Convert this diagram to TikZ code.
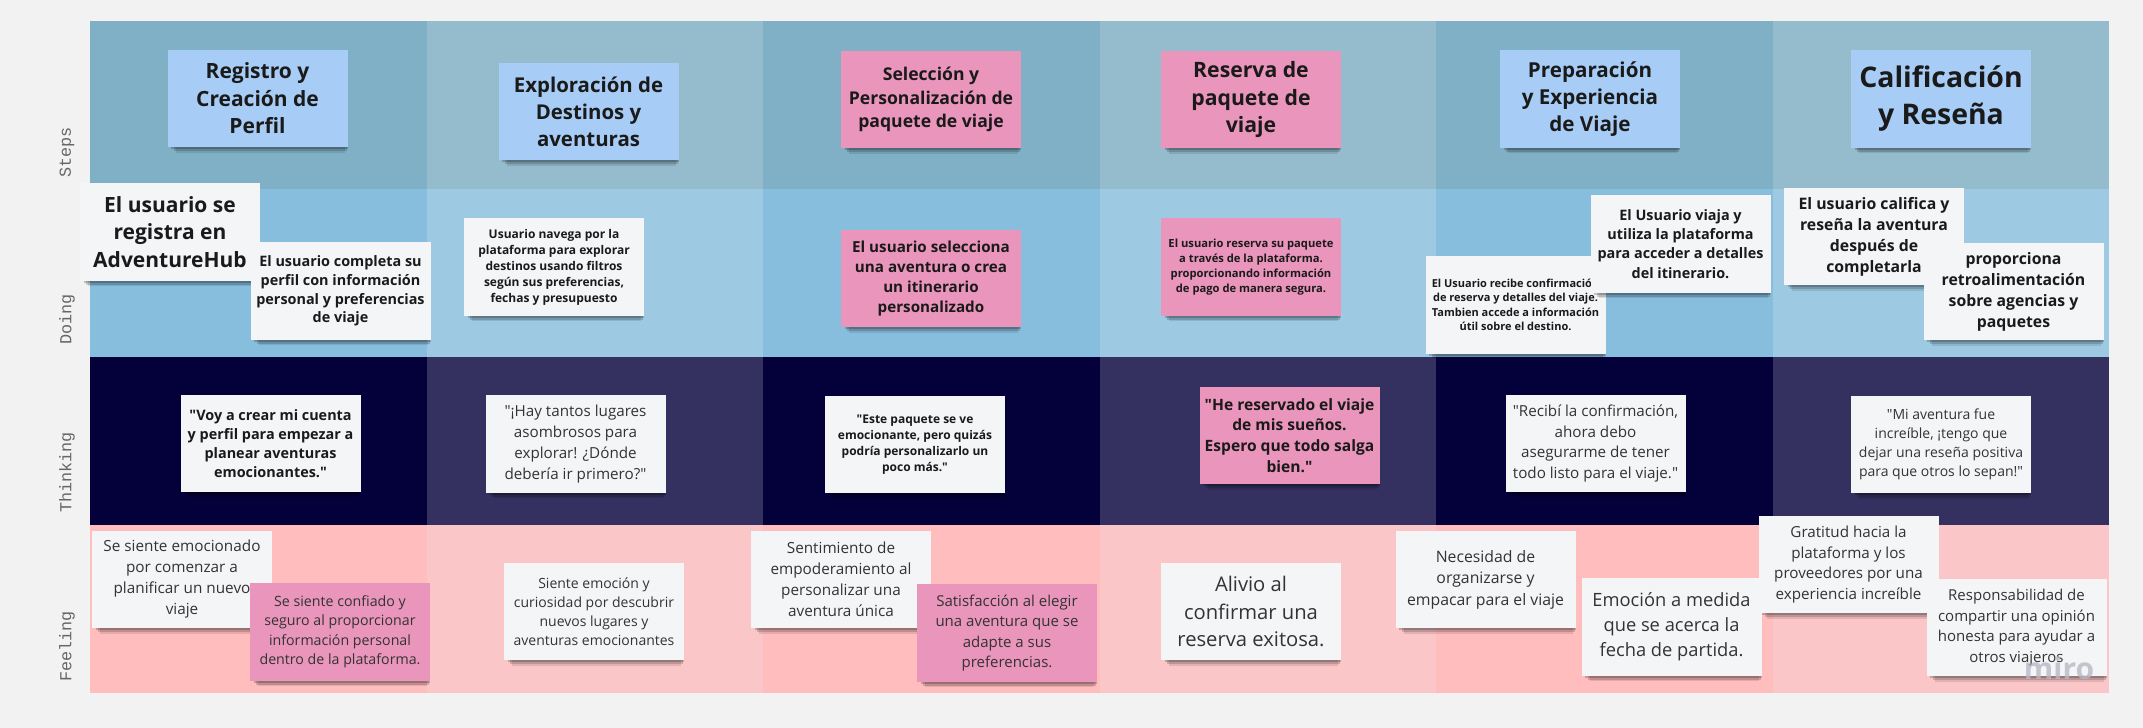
\documentclass[tikz,border=0pt]{standalone}
\usepackage{fontspec}
\setmainfont{Open Sans}[Ligatures=TeXOff]
\newfontfamily\lanefont{Liberation Mono}
\usepackage{xcolor}
\usetikzlibrary{shadows}

\definecolor{pagebg}{HTML}{F2F2F2}
\definecolor{stepA}{HTML}{7FB0C6}
\definecolor{stepB}{HTML}{95BCCD}
\definecolor{doA}{HTML}{88BEDD}
\definecolor{doB}{HTML}{9DC9E2}
\definecolor{thA}{HTML}{04003A}
\definecolor{thB}{HTML}{34305F}
\definecolor{feA}{HTML}{FFBDBE}
\definecolor{feB}{HTML}{FBC6C7}
\definecolor{noteblue}{HTML}{A7CCF5}
\definecolor{notepink}{HTML}{EA95BC}
\definecolor{notewhite}{HTML}{F4F5F7}
\definecolor{notetext}{HTML}{1A1A1A}
\definecolor{lighttext}{HTML}{333333}
\definecolor{lanegray}{HTML}{666666}
\definecolor{wmgray}{HTML}{B9B8C6}

\newcommand{\notesize}[2]{\fontsize{#1}{#2}\selectfont}

\tikzset{
  lane/.style={rotate=90, anchor=west, inner sep=0pt, text=lanegray,
    font=\lanefont\notesize{8.4}{10}},
  note/.style={minimum width=90pt, minimum height=48.75pt, inner sep=1pt,
    align=center, text=notetext,
    general shadow={fill=black, opacity=.10, shadow xshift=1.5pt,
      shadow yshift=-4.5pt, shadow scale=.94},
    general shadow={fill=black, opacity=.16, shadow xshift=1.5pt,
      shadow yshift=-3pt, shadow scale=.96},
    general shadow={fill=black, opacity=.2, shadow xshift=1pt,
      shadow yshift=-1.5pt, shadow scale=.98}},
  bluenote/.style={note, fill=noteblue},
  pinknote/.style={note, fill=notepink},
  whitenote/.style={note, fill=notewhite},
  soft/.style={text=lighttext},
}

\begin{document}
\begin{tikzpicture}[x=0.5pt, y=-0.5pt]
\fill[pagebg] (0,0) rectangle (2143,728);
\useasboundingbox (0,0) rectangle (2143,728);
\foreach \r/\ca/\cb in {0/stepA/stepB, 1/doA/doB, 2/thA/thB, 3/feA/feB}
  \foreach \c in {0,...,5} {
    \ifodd\c \colorlet{lanecol}{\cb}\else \colorlet{lanecol}{\ca}\fi
    \fill[lanecol] ({90+336.5*\c},{21+168*\r}) rectangle ({90+336.5*(\c+1)},{21+168*(\r+1)});
  }

\node[lane] (steps) at (67,178) {Steps};
\node[lane] (doing) at (67,345) {Doing};
\node[lane] (thinking) at (67,513) {Thinking};
\node[lane] (feeling) at (67,682) {Feeling};

\node[bluenote, font=\bfseries\notesize{10.5}{13.7}] (registro) at (257.5,98.5) {Registro y\\Creación de\\Perfil};
\node[bluenote, font=\bfseries\notesize{10.2}{13.6}] (exploracion) at (588.5,111.5) {Exploración de\\Destinos y\\aventuras};
\node[pinknote, font=\bfseries\notesize{8.8}{11.7}] (seleccion) at (931,99.5) {Selección y\\Personalización de\\paquete de viaje};
\node[pinknote, font=\bfseries\notesize{10.6}{13.6}] (reserva) at (1251,99.5) {Reserva de\\paquete de\\viaje};
\node[bluenote, font=\bfseries\notesize{10.3}{13.6}] (preparacion) at (1590,99) {Preparación\\y Experiencia\\de Viaje};
\node[bluenote, font=\bfseries\notesize{14.2}{18.5}] (calificacion) at (1941,99) {Calificación\\y Reseña};

\node[whitenote, font=\bfseries\notesize{10.5}{13.75}] (registra) at (170,232) {El usuario se\\registra en\\AdventureHub};
\node[whitenote, font=\bfseries\notesize{7.2}{9.35}] (completa) at (340.5,291) {El usuario completa su\\perfil con información\\personal y preferencias\\de viaje};
\node[whitenote, font=\bfseries\notesize{6}{8}] (navega) at (554,267) {Usuario navega por la\\plataforma para explorar\\destinos usando filtros\\según sus preferencias,\\fechas y presupuesto};
\node[pinknote, font=\bfseries\notesize{7.6}{10.15}] (selecciona) at (931,278.5) {El usuario selecciona\\una aventura o crea\\un itinerario\\personalizado};
\node[pinknote, font=\bfseries\notesize{5.6}{7.5}] (reservapaq) at (1251,267) {El usuario reserva su paquete\\a través de la plataforma.\\proporcionando información\\de pago de manera segura.};
\node[whitenote, font=\bfseries\notesize{5.5}{7.25}] (recibe) at (1515.5,305) {El Usuario recibe confirmación\\de reserva y detalles del viaje.\\Tambien accede a información\\útil sobre el destino.};
\node[whitenote, font=\bfseries\notesize{7.2}{9.6}] (viaja) at (1680.5,244) {El Usuario viaja y\\utiliza la plataforma\\para acceder a detalles\\del itinerario.};
\node[whitenote, font=\bfseries\notesize{7.9}{10.5}] (califica) at (1874,236.5) {El usuario califica y\\reseña la aventura\\después de\\completarla};
\node[whitenote, font=\bfseries\notesize{7.9}{10.5}] (retro) at (2013.5,291.5) {proporciona\\retroalimentación\\sobre agencias y\\paquetes};

\node[whitenote, font=\bfseries\notesize{7.2}{9.5}] (voy) at (270.5,443.5) {"Voy a crear mi cuenta\\y perfil para empezar a\\planear aventuras\\emocionantes."};
\node[whitenote, soft, font=\notesize{7.6}{10.4}] (lugares) at (575.5,444) {"¡Hay tantos lugares\\asombrosos para\\explorar! ¿Dónde\\debería ir primero?"};
\node[whitenote, font=\bfseries\notesize{6}{8}] (paquete) at (915,444.5) {"Este paquete se ve\\emocionante, pero quizás\\podría personalizarlo un\\poco más."};
\node[pinknote, font=\bfseries\notesize{7.8}{10.4}] (suenos) at (1289.5,435.5) {"He reservado el viaje\\de mis sueños.\\Espero que todo salga\\bien."};
\node[whitenote, soft, font=\notesize{7.6}{10.4}] (recibi) at (1595.5,443.5) {"Recibí la confirmación,\\ahora debo\\asegurarme de tener\\todo listo para el viaje."};
\node[whitenote, soft, font=\notesize{7}{9.5}] (increible) at (1941,444.5) {"Mi aventura fue\\increíble, ¡tengo que\\dejar una reseña positiva\\para que otros lo sepan!"};

\node[whitenote, soft, font=\notesize{7.65}{10.5}] (emocionado) at (182,579.5) {Se siente emocionado\\por comenzar a\\planificar un nuevo\\viaje};
\node[pinknote, soft, font=\notesize{7.1}{9.75}] (confiado) at (340,632) {Se siente confiado y\\seguro al proporcionar\\información personal\\dentro de la plataforma.};
\node[whitenote, soft, font=\notesize{7}{9.5}] (curiosidad) at (594,611.5) {Siente emoción y\\curiosidad por descubrir\\nuevos lugares y\\aventuras emocionantes};
\node[whitenote, soft, font=\notesize{7.65}{10.5}] (empodera) at (841,579.5) {Sentimiento de\\empoderamiento al\\personalizar una\\aventura única};
\node[pinknote, soft, font=\notesize{7.5}{10.25}] (satisfaccion) at (1007,633) {Satisfacción al elegir\\una aventura que se\\adapte a sus\\preferencias.};
\node[whitenote, soft, font=\notesize{10.1}{13.75}] (alivio) at (1251,611.5) {Alivio al\\confirmar una\\reserva exitosa.};
\node[whitenote, soft, font=\notesize{7.9}{10.75}] (necesidad) at (1485.5,579.5) {Necesidad de\\organizarse y\\empacar para el viaje};
\node[whitenote, soft, font=\notesize{9.15}{12.5}] (partida) at (1671.5,627) {Emoción a medida\\que se acerca la\\fecha de partida.};
\node[whitenote, soft, font=\notesize{7.6}{10.4}] (gratitud) at (1848.5,564.5) {Gratitud hacia la\\plataforma y los\\proveedores por una\\experiencia increíble};
\node[whitenote, soft, font=\notesize{7.5}{10.25}] (responsable) at (2016.5,627.5) {Responsabilidad de\\compartir una opinión\\honesta para ayudar a\\otros viajeros};

\node[text=wmgray, opacity=.8, font=\bfseries\notesize{15}{15}] (wm) at (2059,668) {miro};
\end{tikzpicture}
\end{document}
